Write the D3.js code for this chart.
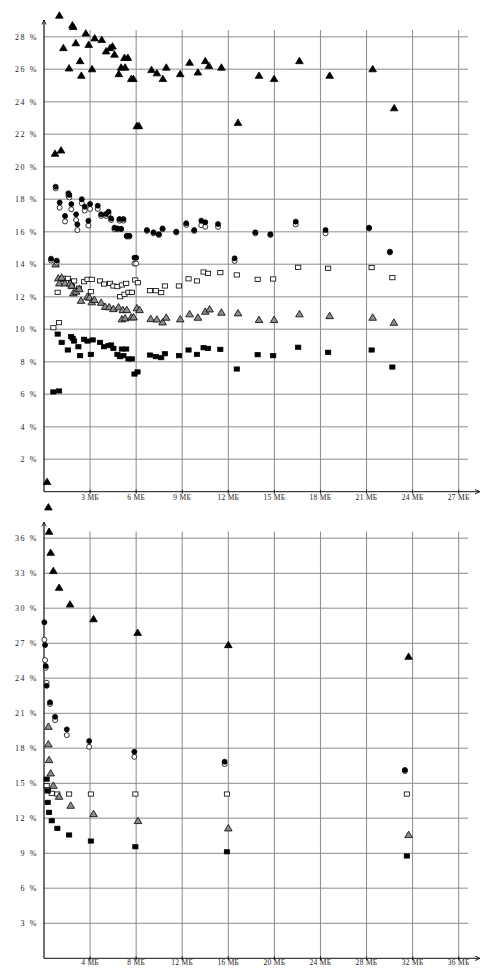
<!DOCTYPE html>
<html><head><meta charset="utf-8">
<script src="https://cdn.jsdelivr.net/npm/d3@7"></script>
<style>body{margin:0;background:#fff}svg{display:block}</style>
</head><body>
<svg id="c" width="482" height="970"></svg>
<script>
// ---------- Top panel data ([size MB, %]) ----------
const topXTicks = [3,6,9,12,15,18,21,24,27];
const topYTicks = [2,4,6,8,10,12,14,16,18,20,22,24,26,28];
const topBlackTriangles = [[0.2,0.6],[0.72,20.8],[1.11,21.0],[1.0,29.3],[1.26,27.3],[1.63,26.05],[1.85,28.7],[1.9,28.6],[2.07,27.6],[2.35,26.5],[2.43,25.6],[2.72,28.2],[2.91,27.5],[3.13,26.0],[3.3,27.9],[3.76,27.8],[4.04,27.1],[4.3,27.3],[4.46,27.4],[4.59,26.9],[4.87,25.7],[5.02,26.1],[5.24,26.7],[5.28,26.1],[5.46,26.7],[5.68,25.4],[5.82,25.4],[6.05,22.5],[6.18,22.5],[7.0,25.95],[7.35,25.75],[7.74,25.4],[7.96,26.1],[8.87,25.7],[9.48,26.4],[10.02,25.8],[10.5,26.5],[10.74,26.2],[11.55,26.1],[12.63,22.7],[14.0,25.6],[14.98,25.4],[16.63,26.5],[18.6,25.6],[21.4,26.0],[22.8,23.6]];
const topBlackCircles = [[0.46,14.34],[0.76,18.77],[0.83,14.22],[1.02,17.8],[1.37,16.97],[1.59,18.36],[1.65,18.26],[1.78,17.7],[2.09,17.07],[2.17,16.45],[2.46,18.0],[2.65,17.54],[2.89,16.68],[3.0,17.7],[3.5,17.6],[3.72,17.07],[4.04,17.09],[4.2,17.23],[4.37,16.82],[4.59,16.25],[4.78,16.2],[4.91,16.78],[5.02,16.18],[5.17,16.78],[5.39,15.75],[5.56,15.75],[5.89,14.4],[6.0,14.4],[6.7,16.1],[7.13,15.96],[7.48,15.84],[7.72,16.2],[8.61,16.0],[9.26,16.52],[9.78,16.1],[10.24,16.68],[10.5,16.58],[11.33,16.47],[12.41,14.36],[13.76,15.96],[14.74,15.84],[16.39,16.62],[18.33,16.1],[21.16,16.25],[22.52,14.77]];
const topOpenCircles = [[0.46,14.22],[0.76,18.67],[0.83,14.1],[1.02,17.48],[1.37,16.63],[1.59,18.2],[1.65,18.11],[1.78,17.38],[2.09,16.72],[2.17,16.1],[2.46,17.75],[2.65,17.3],[2.89,16.38],[3.0,17.4],[3.5,17.4],[3.72,16.97],[4.04,16.97],[4.2,17.1],[4.37,16.72],[4.59,16.15],[4.78,16.15],[4.91,16.68],[5.02,16.15],[5.17,16.68],[5.39,15.7],[5.56,15.7],[5.89,14.04],[6.0,14.04],[6.7,16.05],[7.13,15.9],[7.48,15.8],[7.72,16.15],[8.61,15.95],[9.26,16.42],[9.78,16.05],[10.24,16.4],[10.5,16.3],[11.33,16.3],[12.41,14.2],[13.76,15.9],[14.74,15.8],[16.39,16.45],[18.33,15.9],[21.16,16.2],[22.52,14.72]];
const topOpenSquares = [[0.61,10.09],[0.89,12.27],[0.98,10.4],[1.26,13.13],[1.26,12.82],[1.55,13.13],[1.76,12.86],[1.81,12.62],[1.96,12.97],[2.28,12.52],[2.61,12.92],[2.83,13.07],[3.05,12.31],[3.11,13.07],[3.65,12.97],[3.91,12.78],[4.3,12.82],[4.52,12.66],[4.78,12.62],[4.96,12.0],[5.07,12.72],[5.24,12.15],[5.35,12.82],[5.5,12.27],[5.72,12.27],[5.94,13.03],[6.11,12.86],[6.9,12.37],[7.28,12.37],[7.63,12.25],[7.87,12.66],[8.78,12.66],[9.41,13.1],[9.96,12.97],[10.39,13.52],[10.68,13.44],[11.48,13.48],[12.55,13.34],[13.91,13.07],[14.92,13.09],[16.55,13.81],[18.5,13.75],[21.33,13.79],[22.68,13.17]];
const topGrayTriangles = [[0.76,13.99],[0.93,13.13],[1.0,12.82],[1.15,13.17],[1.37,12.82],[1.7,12.82],[1.8,12.68],[1.91,12.21],[2.09,12.31],[2.3,12.47],[2.41,11.75],[2.83,12.0],[2.96,11.94],[3.11,11.66],[3.28,11.8],[3.72,11.63],[3.98,11.38],[4.24,11.35],[4.52,11.24],[4.85,11.35],[5.07,10.61],[5.13,11.18],[5.28,10.67],[5.39,11.18],[5.68,10.73],[5.83,10.73],[6.05,11.29],[6.22,11.18],[6.95,10.63],[7.35,10.6],[7.72,10.42],[7.96,10.71],[8.87,10.61],[9.48,10.92],[10.02,10.71],[10.5,11.08],[10.78,11.22],[11.55,11.02],[12.63,10.98],[14.0,10.57],[14.98,10.57],[16.63,10.92],[18.6,10.81],[21.4,10.71],[22.78,10.4]];
const topBlackSquares = [[0.61,6.14],[0.89,9.7],[0.98,6.2],[1.15,9.19],[1.55,8.72],[1.76,9.54],[1.87,9.44],[1.96,9.27],[2.24,8.92],[2.35,8.37],[2.61,9.38],[2.83,9.27],[3.05,8.45],[3.17,9.34],[3.65,9.19],[3.91,8.92],[4.2,8.99],[4.37,9.03],[4.52,8.82],[4.78,8.45],[4.96,8.31],[5.07,8.78],[5.17,8.37],[5.35,8.78],[5.5,8.17],[5.72,8.17],[5.89,7.24],[6.09,7.37],[6.9,8.41],[7.28,8.31],[7.63,8.25],[7.87,8.49],[8.79,8.37],[9.41,8.72],[9.96,8.45],[10.39,8.86],[10.68,8.82],[11.48,8.76],[12.55,7.55],[13.91,8.43],[14.92,8.37],[16.55,8.89],[18.5,8.58],[21.33,8.72],[22.68,7.67]];

// ---------- Bottom panel data ----------
const botXTicks = [4,8,12,16,20,24,28,32,36];
const botYTicks = [3,6,9,12,15,18,21,24,27,30,33,36];
const botBlackTriangles = [[0.38,38.65],[0.44,36.56],[0.58,34.76],[0.81,33.2],[1.31,31.76],[2.26,30.33],[4.3,29.07],[8.13,27.9],[16.0,26.85],[31.65,25.85]];
const botGrayTriangles = [[0.38,19.85],[0.38,18.34],[0.44,16.99],[0.58,15.85],[0.81,14.79],[1.31,13.85],[2.32,13.08],[4.3,12.37],[8.16,11.77],[16.0,11.14],[31.65,10.57]];
const botBlackCircles = [[0.03,28.8],[0.09,26.85],[0.15,25.05],[0.23,23.36],[0.52,21.94],[0.96,20.7],[1.98,19.62],[3.92,18.62],[7.84,17.7],[15.68,16.85],[31.33,16.14]];
const botOpenCircles = [[0.03,27.3],[0.09,25.56],[0.15,24.9],[0.23,23.62],[0.52,21.8],[0.96,20.42],[1.98,19.13],[3.92,18.13],[7.84,17.27],[15.68,16.65],[31.33,16.05]];
const botBlackSquares = [[0.23,15.36],[0.32,14.34],[0.32,13.37],[0.44,12.51],[0.67,11.79],[1.16,11.14],[2.18,10.57],[4.07,10.05],[7.93,9.56],[15.88,9.13],[31.5,8.77]];
const botOpenSquares = [[0.23,14.79],[0.32,14.42],[0.67,14.14],[1.16,14.08],[2.18,14.08],[4.07,14.08],[7.93,14.08],[15.88,14.08],[31.5,14.08]];

const svg = d3.select("#c");
const FONT = "'Liberation Serif','DejaVu Serif',serif";

function panel(cfg){
  const x = d3.scaleLinear().domain([0, cfg.xMax]).range([44, 458.7]);
  const y = d3.scaleLinear().domain([0, cfg.yMax]).range([cfg.y0, cfg.yTop]);
  const g = svg.append("g");
  const gridRight = 468, gridTop = cfg.gridTop;
  // grid
  g.selectAll(".hg").data(cfg.yTicks).enter().append("line")
    .attr("x1",44).attr("x2",gridRight).attr("y1",d=>y(d)).attr("y2",d=>y(d))
    .attr("stroke",(d,i)=> i%2===0 ? "#8a8a8a" : "#b4b4b4").attr("stroke-width",(d,i)=> i%2===0?1:1.4);
  g.selectAll(".vg").data(cfg.xTicks).enter().append("line")
    .attr("x1",d=>x(d)).attr("x2",d=>x(d)).attr("y1",gridTop).attr("y2",cfg.y0)
    .attr("stroke","#8a8a8a").attr("stroke-width",1);
  // axes
  g.append("line").attr("x1",44).attr("x2",479).attr("y1",cfg.y0).attr("y2",cfg.y0).attr("stroke","#111").attr("stroke-width",1);
  g.append("path").attr("d",`M475,${cfg.y0-2.2} L480,${cfg.y0} L475,${cfg.y0+2.2}`).attr("fill","none").attr("stroke","#111").attr("stroke-width",0.9);
  g.append("line").attr("x1",44).attr("x2",44).attr("y1",cfg.y0).attr("y2",cfg.arrowTop).attr("stroke","#111").attr("stroke-width",1.2);
  g.append("path").attr("d",`M41.8,${cfg.arrowTop+4.5} L44,${cfg.arrowTop} L46.2,${cfg.arrowTop+4.5}`).attr("fill","none").attr("stroke","#111").attr("stroke-width",0.9);
  // ticks
  g.selectAll(".xt").data(cfg.xTicks).enter().append("line")
    .attr("x1",d=>x(d)).attr("x2",d=>x(d)).attr("y1",cfg.y0-2).attr("y2",cfg.y0+2).attr("stroke","#111");
  g.selectAll(".yl").data(cfg.yTicks).enter().append("text")
    .attr("x",38).attr("y",d=>y(d)+2.8).attr("text-anchor","end")
    .attr("font-family",FONT).attr("font-size",8).attr("letter-spacing",1.6).attr("fill","#222")
    .text(d=>d+" %");
  g.selectAll(".xl").data(cfg.xTicks).enter().append("text")
    .attr("x",d=>x(d)).attr("y",cfg.xlY).attr("text-anchor","middle")
    .attr("font-family",FONT).attr("font-size",7.5).attr("letter-spacing",0.3).attr("fill","#222")
    .text(d=>d+" МБ");
  // markers
  const tri = (d,fill)=>{};
  function triangles(data, fill){
    g.append("g").selectAll("path").data(data).enter().append("path")
      .attr("d",d=>{const cx=x(d[0]), cy=y(d[1]); return `M${cx-3.8},${cy+2.6} L${cx},${cy-3.8} L${cx+3.8},${cy+2.6} Z`;})
      .attr("fill",fill).attr("stroke","#000").attr("stroke-width",0.8).attr("stroke-linejoin","round");
  }
  function squares(data, fill){
    g.append("g").selectAll("rect").data(data).enter().append("rect")
      .attr("x",d=>x(d[0])-2.6).attr("y",d=>y(d[1])-2.1).attr("width",5.2).attr("height",4.2)
      .attr("fill",fill).attr("stroke","#000").attr("stroke-width",0.8);
  }
  function circles(data, fill){
    g.append("g").selectAll("circle").data(data).enter().append("circle")
      .attr("cx",d=>x(d[0])).attr("cy",d=>y(d[1])).attr("r",2.5)
      .attr("fill",fill).attr("stroke","#000").attr("stroke-width",0.8);
  }
  squares(cfg.openSquares,"#fff");
  triangles(cfg.grayTriangles,"#8c8c8c");
  squares(cfg.blackSquares,"#000");
  circles(cfg.openCircles,"#fff");
  circles(cfg.blackCircles,"#000");
  triangles(cfg.blackTriangles,"#000");
}

panel({xMax:27, yMax:28, y0:491.7, yTop:36.7, gridTop:30, arrowTop:20, xlY:500,
  xTicks:topXTicks, yTicks:topYTicks,
  blackTriangles:topBlackTriangles, blackCircles:topBlackCircles, openCircles:topOpenCircles,
  openSquares:topOpenSquares, grayTriangles:topGrayTriangles, blackSquares:topBlackSquares});

panel({xMax:36, yMax:36, y0:958.3, yTop:538.3, gridTop:531.5, arrowTop:522, xlY:965,
  xTicks:botXTicks, yTicks:botYTicks,
  blackTriangles:botBlackTriangles, blackCircles:botBlackCircles, openCircles:botOpenCircles,
  openSquares:botOpenSquares, grayTriangles:botGrayTriangles, blackSquares:botBlackSquares});
</script>
</body></html>
